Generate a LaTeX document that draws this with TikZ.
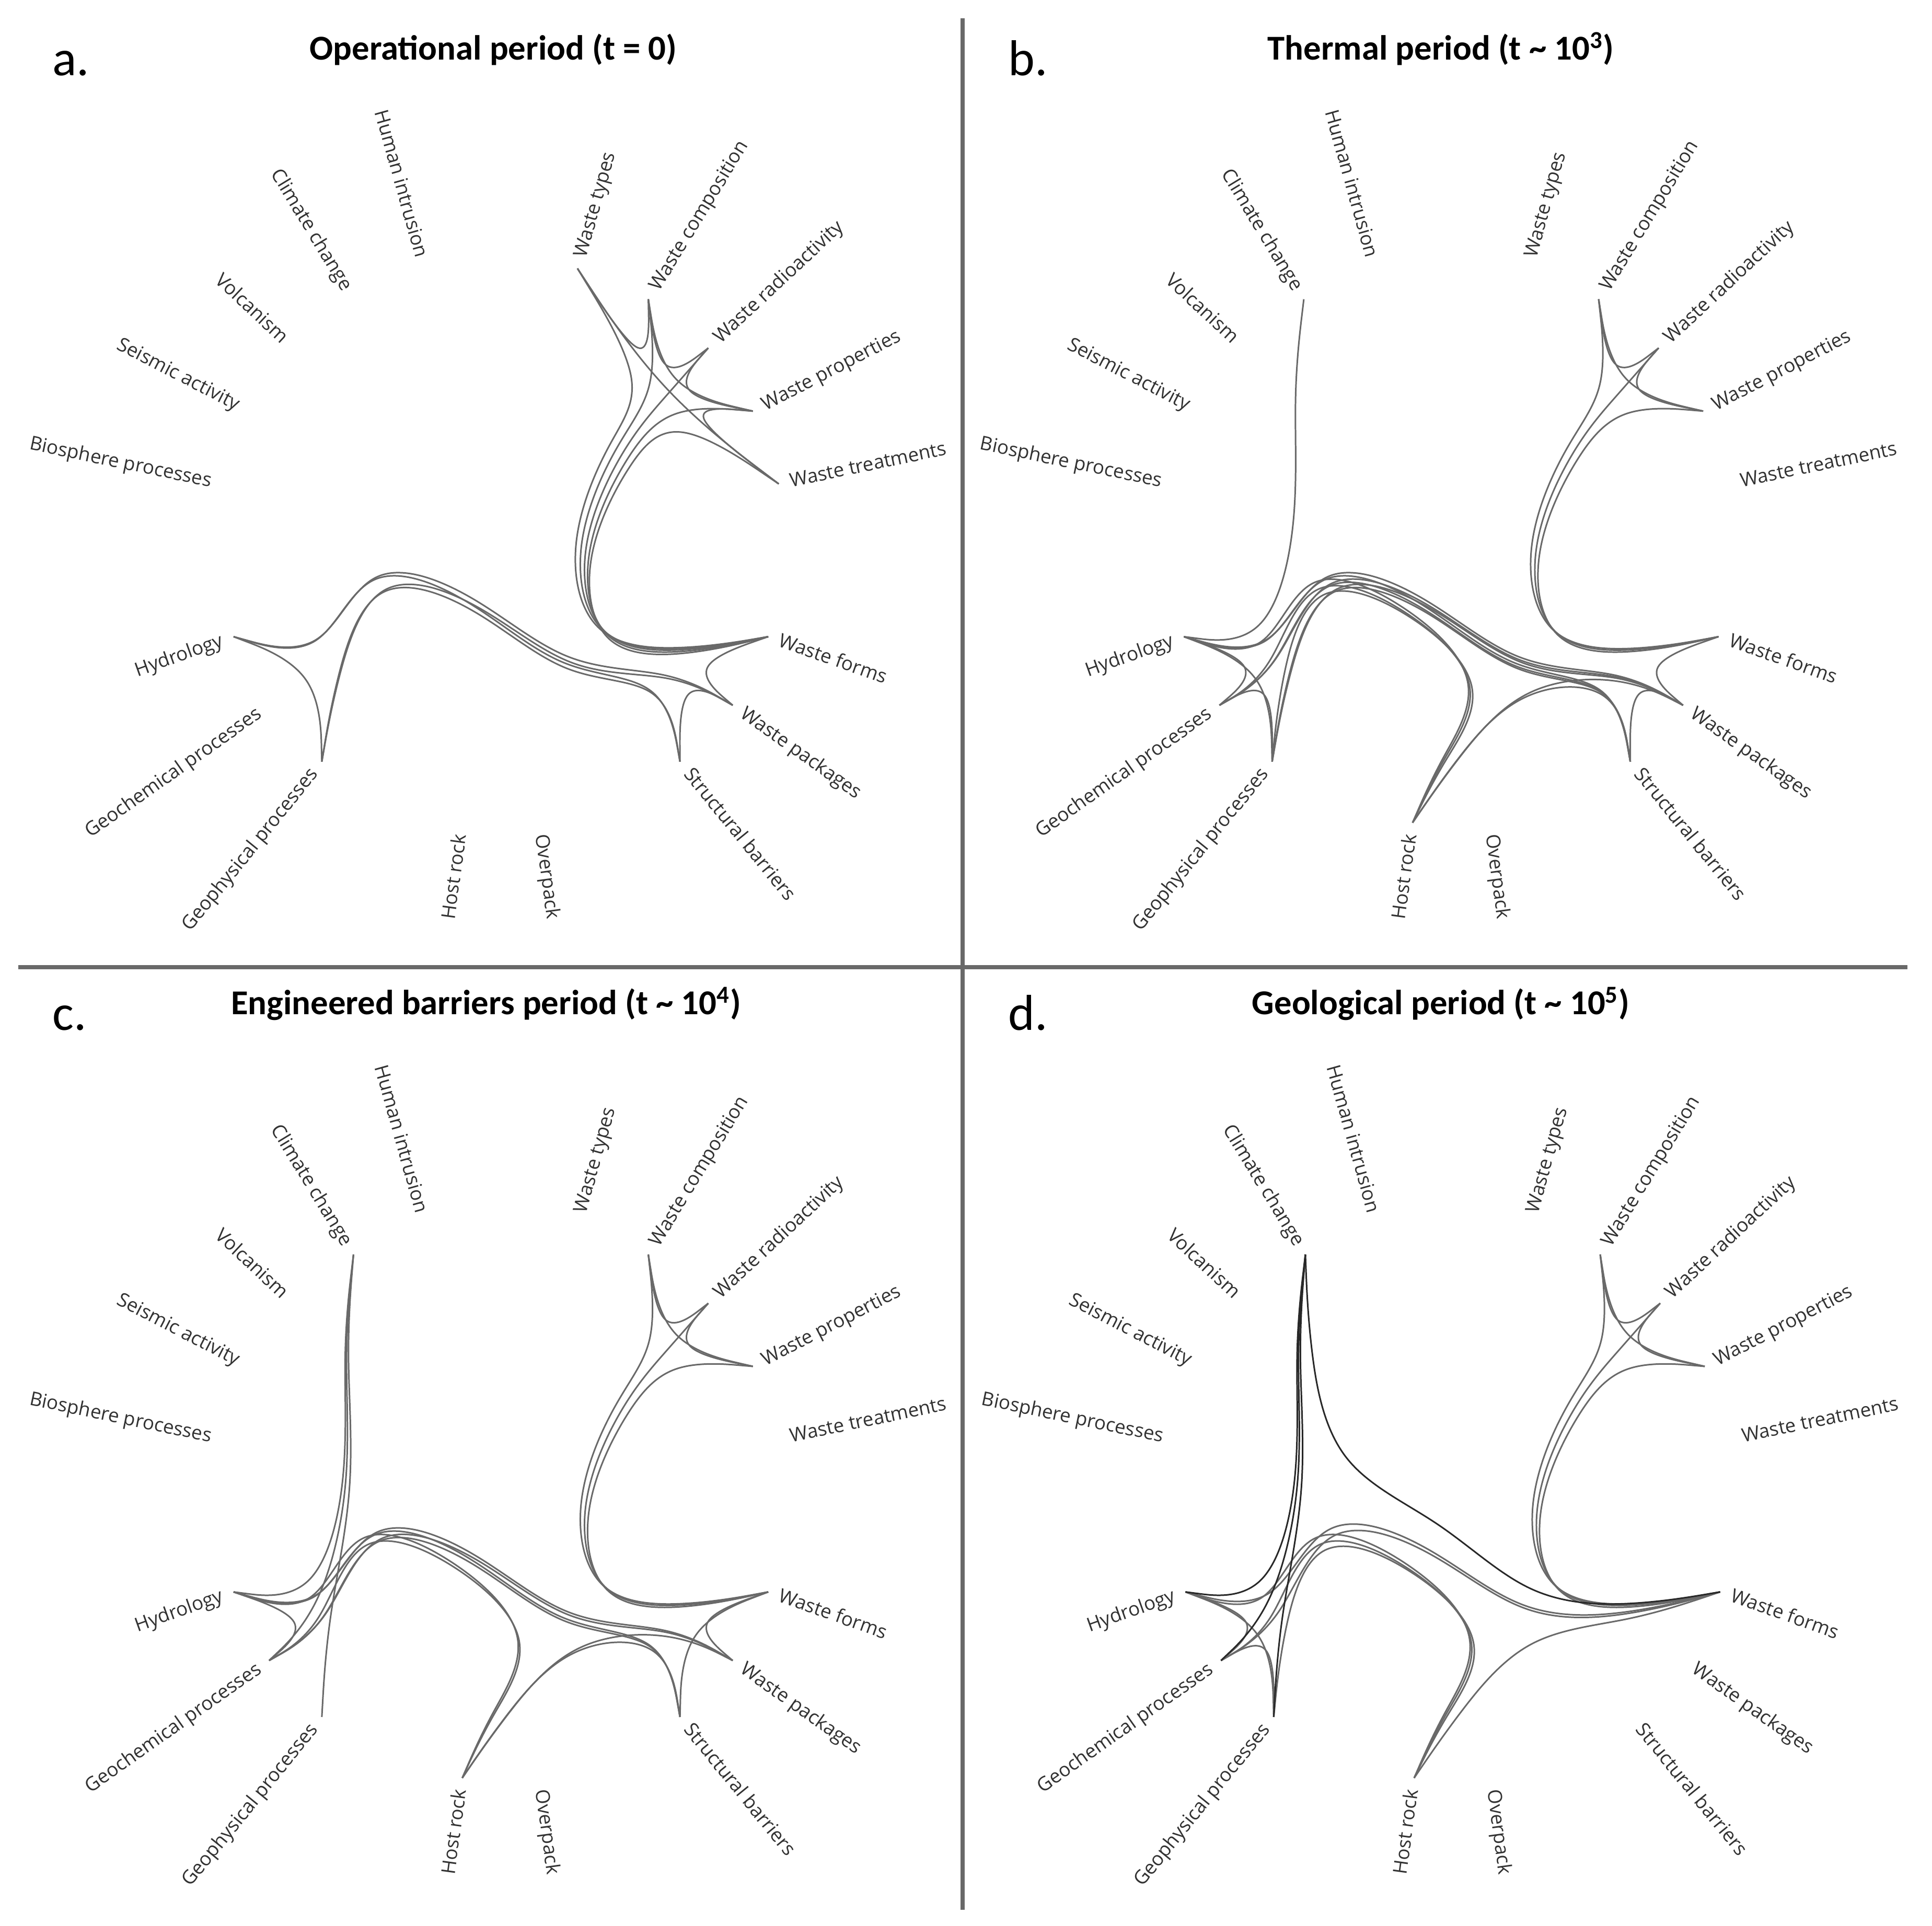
\documentclass[tikz,border=0pt]{standalone}
\usepackage{fontspec}
\usepackage{tikz}
\usetikzlibrary{calc}
\newfontfamily\labelfont{Open Sans}
\newfontfamily\titlefont{Carlito}
\definecolor{linkgray}{RGB}{105,105,105}
\definecolor{darkline}{RGB}{40,40,40}
\definecolor{labelgray}{RGB}{50,50,50}
\definecolor{rulegray}{RGB}{105,105,105}
\tikzset{
    leaflabel/.style={
        inner sep=0pt, text=labelgray, text height=0.82em, text depth=0.2em,
        font=\labelfont\fontsize{10.5}{12}\selectfont
    },
    link/.style={
        draw=linkgray, line width=0.85pt
    },
    darklink/.style={
        draw=darkline, line width=0.85pt
    },
    paneltitle/.style={
        anchor=base, inner sep=0pt, font=\titlefont\bfseries\fontsize{19}{22}\selectfont
    },
    panelletter/.style={
        anchor=base west, inner sep=0pt, font=\titlefont\fontsize{27.5}{30}\selectfont
    },
    divider/.style={
        draw=rulegray, line width=2.2pt
    }
}
\def\rad{5.43}
\def\gap{0.22}
% bundled link: leaf, hubs ..., leaf
\newcommand{\linkpath}[2][link]{%
    \foreach \bp [count=\bi from 0] in {#2} {%
        \coordinate (raw\bi) at (\bp);
        \xdef\blast{\bi}}
    \pgfmathtruncatemacro{\bprev}{\blast-1}
    \foreach \bi in {0,...,\blast} {%
        \coordinate (q\bi) at ($(raw\bi)!0.15!($(raw0)!{\bi/\blast}!(raw\blast)$)$);}
    \coordinate (s1) at ($(q0)!{1/6}!(q1)$);
    \gdef\bcurve{}
    \foreach \bk [evaluate=\bk as \ba using int(\bk-2), evaluate=\bk as \bb using int(\bk-1)] in {2,...,\blast} {%
        \coordinate (a\bk) at ($(q\ba)!{1/3}!(q\bb)$);
        \coordinate (b\bk) at ($(q\ba)!{2/3}!(q\bb)$);
        \coordinate (e\bk) at ($(q\bb)!{1/3}!($(q\ba)!0.5!(q\bk)$)$);
        \xdef\bcurve{\bcurve .. controls (a\bk) and (b\bk) .. (e\bk)}}
    \coordinate (fa) at ($(q\bprev)!{1/3}!(q\blast)$);
    \coordinate (fb) at ($(q\bprev)!{2/3}!(q\blast)$);
    \coordinate (fe) at ($(q\bprev)!{5/6}!(q\blast)$);
    \draw[#1] (q0) -- (s1) \bcurve .. controls (fa) and (fb) .. (fe) -- (q\blast);
}
% leaves, labels and hubs of one panel
\newcommand{\drawleaves}{%
    \coordinate (gA) at (136.96:{0.75*\rad});
    \coordinate (gB) at (43.04:{0.75*\rad});
    \coordinate (gC) at (-35.22:{0.75*\rad});
    \coordinate (gD) at (-90:{0.75*\rad});
    \coordinate (gE) at (-144.78:{0.75*\rad});
    \coordinate (hAE) at (176.09:{0.5*\rad});
    \coordinate (hB) at (43.04:{0.5*\rad});
    \coordinate (hCD) at (-62.61:{0.5*\rad});
    \coordinate (mAC) at (-122:{0.16*\rad});
    \coordinate (mBC) at (-20:{0.17*\rad});
    \foreach \nm/\ang/\txt in {wty/74.35/Waste types, wco/58.70/Waste composition,
        wra/43.04/Waste radioactivity, wpr/27.39/Waste properties, wtr/11.74/Waste treatments,
        wfo/-19.57/Waste forms, wpa/-35.22/Waste packages, sba/-50.87/Structural barriers,
        ove/-82.17/Overpack} {
        \coordinate (\nm) at (\ang:\rad);
        \node[leaflabel, rotate=\ang, anchor=west] (\nm-t) at (\ang:{\rad+\gap}) {\txt};
    }
    \foreach \nm/\ang/\txt in {hro/-97.83/Host rock, gph/-129.13/Geophysical processes,
        gch/-144.78/Geochemical processes, hyd/-160.43/Hydrology, bio/168.26/Biosphere processes,
        sei/152.61/Seismic activity, vol/136.96/Volcanism, cli/121.30/Climate change,
        hum/105.65/Human intrusion} {
        \pgfmathsetmacro{\flip}{\ang+180}
        \coordinate (\nm) at (\ang:\rad);
        \node[leaflabel, rotate=\flip, anchor=east] (\nm-t) at (\ang:{\rad+\gap}) {\txt};
    }
}

\begin{document}
\begin{tikzpicture}
    \useasboundingbox (0,0) rectangle (36.97,36.85);

    % --- separators ---
    \draw[divider] (18.42,36.50) -- (18.42,0.30);
    \draw[divider] (0.35,18.34) -- (36.50,18.34);

    % --- titles ---
    \node[panelletter] (let-a) at (1.00,35.40) {a.};
    \node[panelletter] (let-b) at (19.29,35.40) {b.};
    \node[panelletter] (let-c) at (1.00,17.13) {c.};
    \node[panelletter] (let-d) at (19.29,17.13) {d.};
    \node[paneltitle] (title-a) at (9.44,35.70) {Operational period (t = 0)};
    \node[paneltitle] (title-b) at (27.57,35.70) {Thermal period (t \textasciitilde{} 10\textsuperscript{3})};
    \node[paneltitle] (title-c) at (9.30,17.43) {Engineered barriers period (t \textasciitilde{} 10\textsuperscript{4})};
    \node[paneltitle] (title-d) at (27.57,17.43) {Geological period (t \textasciitilde{} 10\textsuperscript{5})};

    % --- a: operational ---
    \begin{scope}[shift={(9.585,26.484)}]
        \drawleaves
        \foreach \ea/\eb in {wty/wtr, wty/wco, wco/wra, wco/wpr, wra/wpr, wpr/wtr} {\linkpath{\ea,gB,\eb}}
        \foreach \ea in {wty, wco, wra, wpr, wtr} {\linkpath{\ea,gB,hB,mBC,hCD,gC,wfo}}
        \foreach \ea/\eb in {wfo/wpa, wpa/sba} {\linkpath{\ea,gC,\eb}}
        \linkpath{hyd,gE,gph}
        \foreach \ea/\eb in {hyd/wpa, hyd/sba, gph/wpa, gph/sba} {\linkpath{\ea,gE,hAE,mAC,hCD,gC,\eb}}
    \end{scope}

    % --- b: thermal ---
    \begin{scope}[shift={(27.77,26.484)}]
        \drawleaves
        \linkpath{cli,gA,hAE,gE,hyd}
        \foreach \ea/\eb in {hyd/gch, hyd/gph, gch/gph} {\linkpath{\ea,gE,\eb}}
        \foreach \ea/\eb in {hyd/wpa, hyd/sba, gch/wpa, gch/sba, gph/wpa, gph/sba} {\linkpath{\ea,gE,hAE,mAC,hCD,gC,\eb}}
        \foreach \ea in {hyd, gch, gph} {\linkpath{\ea,gE,hAE,mAC,hCD,gD,hro}}
        \foreach \eb in {wpa, sba} {\linkpath{hro,gD,hCD,gC,\eb}}
        \foreach \ea/\eb in {wco/wra, wra/wpr, wco/wpr} {\linkpath{\ea,gB,\eb}}
        \foreach \ea in {wco, wra, wpr} {\linkpath{\ea,gB,hB,mBC,hCD,gC,wfo}}
        \foreach \ea/\eb in {wfo/wpa, wpa/sba} {\linkpath{\ea,gC,\eb}}
    \end{scope}

    % --- c: engineered barriers ---
    \begin{scope}[shift={(9.585,8.202)}]
        \drawleaves
        \foreach \eb in {hyd, gch, gph} {\linkpath{cli,gA,hAE,gE,\eb}}
        \linkpath{hyd,gE,gch}
        \foreach \ea/\eb in {hyd/wpa, hyd/sba, gch/wpa, gch/sba} {\linkpath{\ea,gE,hAE,mAC,hCD,gC,\eb}}
        \foreach \ea in {hyd, gch} {\linkpath{\ea,gE,hAE,mAC,hCD,gD,hro}}
        \foreach \eb in {wpa, sba} {\linkpath{hro,gD,hCD,gC,\eb}}
        \foreach \ea/\eb in {wco/wra, wra/wpr, wco/wpr} {\linkpath{\ea,gB,\eb}}
        \foreach \ea in {wco, wra, wpr} {\linkpath{\ea,gB,hB,mBC,hCD,gC,wfo}}
        \foreach \ea/\eb in {wfo/wpa, wfo/sba} {\linkpath{\ea,gC,\eb}}
    \end{scope}

    % --- d: geological ---
    \begin{scope}[shift={(27.80,8.202)}]
        \drawleaves
        \foreach \ea/\eb in {hyd/gch, hyd/gph, gch/gph} {\linkpath{\ea,gE,\eb}}
        \foreach \ea in {hyd, gch, gph} {\linkpath{\ea,gE,hAE,mAC,hCD,gD,hro}}
        \foreach \ea in {hyd, gch} {\linkpath{\ea,gE,hAE,mAC,hCD,gC,wfo}}
        \linkpath{hro,gD,hCD,gC,wfo}
        \foreach \ea/\eb in {wco/wra, wra/wpr, wco/wpr} {\linkpath{\ea,gB,\eb}}
        \foreach \ea in {wco, wra, wpr} {\linkpath{\ea,gB,hB,mBC,hCD,gC,wfo}}
        % climate change links
        \foreach \eb in {hyd, gch, gph} {\linkpath[darklink]{cli,gA,hAE,gE,\eb}}
        \linkpath[darklink]{cli,gA,hAE,mAC,hCD,gC,wfo}
    \end{scope}
\end{tikzpicture}
\end{document}
